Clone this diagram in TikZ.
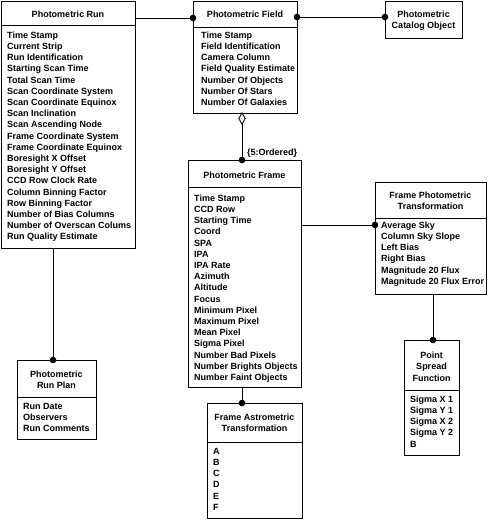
\documentclass[tikz,border=0pt]{standalone}
\usepackage{fontspec}
\setmainfont{Liberation Sans}
\usetikzlibrary{arrows.meta,fit,calc}
\tikzset{
  cls/.style={draw, line width=0.9pt, inner sep=0pt, outer sep=0pt, rectangle},
  sepline/.style={line width=0.9pt},
  itm/.style={anchor=west, inner sep=0pt, font=\fontsize{9}{11}\selectfont\bfseries, text height=6.5pt, text depth=0pt},
  ttl/.style={anchor=center, inner sep=0pt, font=\fontsize{9}{11}\selectfont\bfseries, text height=6.5pt, text depth=0pt},
  conn/.style={line width=0.9pt},
  dotend/.style={conn, -{Circle[length=6.5pt]}, shorten >=-3.25pt},
  dotboth/.style={conn, {Circle[length=6.5pt]}-{Circle[length=6.5pt]}, shorten >=-3.25pt, shorten <=-3.25pt},
  aggr/.style={conn, {Diamond[open, length=13pt, width=7.5pt]}-{Circle[length=6.5pt]}, shorten >=-3.25pt, shorten <=-1pt},
}
\newcommand\clsitems[4]{\foreach \t [count=\i from 0] in {#4} {\node[itm] (#1-\i) at ({#2},{#3+11.2*\i}) {\t};}}
\newcommand\clstitle[4]{\foreach \t [count=\i from 0] in {#4} {\node[ttl] (#1-t\i) at ({#2},{#3+11.5*\i}) {\t};}}
\begin{document}
\begin{tikzpicture}[x=1pt,y=-1pt]
\useasboundingbox (0,0) rectangle (488,520);

% Photometric Run
\node[cls, fit={(1,1) (135,248)}] (run) {};
\clstitle{runt}{68}{14}{Photometric Run}
\draw[sepline] ($(run.north west)+(0,24)$) -- ($(run.north east)+(0,24)$);
\clsitems{runi}{7}{35}{Time Stamp, Current Strip, Run Identification, Starting Scan Time, Total Scan Time, Scan Coordinate System, Scan Coordinate Equinox, Scan Inclination, Scan Ascending Node, Frame Coordinate System, Frame Coordinate Equinox, Boresight X Offset, Boresight Y Offset, CCD Row Clock Rate, Column Binning Factor, Row Binning Factor, Number of Bias Columns, Number of Overscan Colums, Run Quality Estimate}

% Photometric Field
\node[cls, fit={(193,1) (297,113)}] (field) {};
\clstitle{fieldt}{245}{14}{Photometric Field}
\draw[sepline] ($(field.north west)+(0,26)$) -- ($(field.north east)+(0,26)$);
\clsitems{fieldi}{201}{35}{Time Stamp, Field Identification, Camera Column, Field Quality Estimate, Number Of Objects, Number Of Stars, Number Of Galaxies}

% Photometric Catalog Object
\node[cls, fit={(385,1) (462,38)}] (cat) {};
\clstitle{catt}{423.5}{14}{Photometric, Catalog Object}

% Photometric Frame
\node[cls, fit={(188,160) (301,387)}] (frame) {};
\clstitle{framet}{244.5}{175}{Photometric Frame}
\draw[sepline] ($(frame.north west)+(0,27)$) -- ($(frame.north east)+(0,27)$);
\clsitems{framei}{194}{198}{Time Stamp, CCD Row, Starting Time, Coord, SPA, IPA, IPA Rate, Azimuth, Altitude, Focus, Minimum Pixel, Maximum Pixel, Mean Pixel, Sigma Pixel, Number Bad Pixels, Number Brights Objects, Number Faint Objects}

% Frame Photometric Transformation
\node[cls, fit={(375,182) (486,294)}] (fpt) {};
\clstitle{fptt}{430.5}{195}{Frame Photometric, Transformation}
\draw[sepline] ($(fpt.north west)+(0,36)$) -- ($(fpt.north east)+(0,36)$);
\clsitems{fpti}{381}{225}{Average Sky, Column Sky Slope, Left Bias, Right Bias, Magnitude 20 Flux, Magnitude 20 Flux Error}

% Point Spread Function
\node[cls, fit={(404,340) (459,455)}] (psf) {};
\clstitle{psft}{431.5}{355}{Point, Spread, Function}
\draw[sepline] ($(psf.north west)+(0,50)$) -- ($(psf.north east)+(0,50)$);
\clsitems{psfi}{410}{399}{Sigma X 1, Sigma Y 1, Sigma X 2, Sigma Y 2, B}

% Photometric Run Plan
\node[cls, fit={(17,360) (96,439)}] (plan) {};
\clstitle{plant}{56.5}{374}{Photometric, Run Plan}
\draw[sepline] ($(plan.north west)+(0,37)$) -- ($(plan.north east)+(0,37)$);
\clsitems{plani}{23}{406}{Run Date, Observers, Run Comments}

% Frame Astrometric Transformation
\node[cls, fit={(207,403) (302,518)}] (astro) {};
\clstitle{astrot}{254.5}{417}{Frame Astrometric, Transformation}
\draw[sepline] ($(astro.north west)+(0,39)$) -- ($(astro.north east)+(0,39)$);
\clsitems{astroi}{213}{451}{A, B, C, D, E, F}

% Connectors
\draw[dotend] ($(run.north east)+(0,17)$) -- ($(field.north west)+(0,17)$);
\draw[dotboth] ($(field.north east)+(0,16)$) -- ($(cat.north west)+(0,16)$);
\draw[aggr] ($(field.south west)+(49,0)$) -- ($(frame.north west)+(54,0)$);
\node[itm] (ordlbl) at (247,152) {\{5:Ordered\}};
\draw[dotend] ($(frame.north east)+(0,65)$) -- ($(fpt.north west)+(0,43)$);
\draw[dotend] ($(fpt.south west)+(58,0)$) -- ($(psf.north west)+(29,0)$);
\draw[dotend] ($(run.south west)+(52,0)$) -- ($(plan.north west)+(36,0)$);
\draw[dotend] ($(frame.south west)+(54,0)$) -- ($(astro.north west)+(35,0)$);
\end{tikzpicture}
\end{document}
